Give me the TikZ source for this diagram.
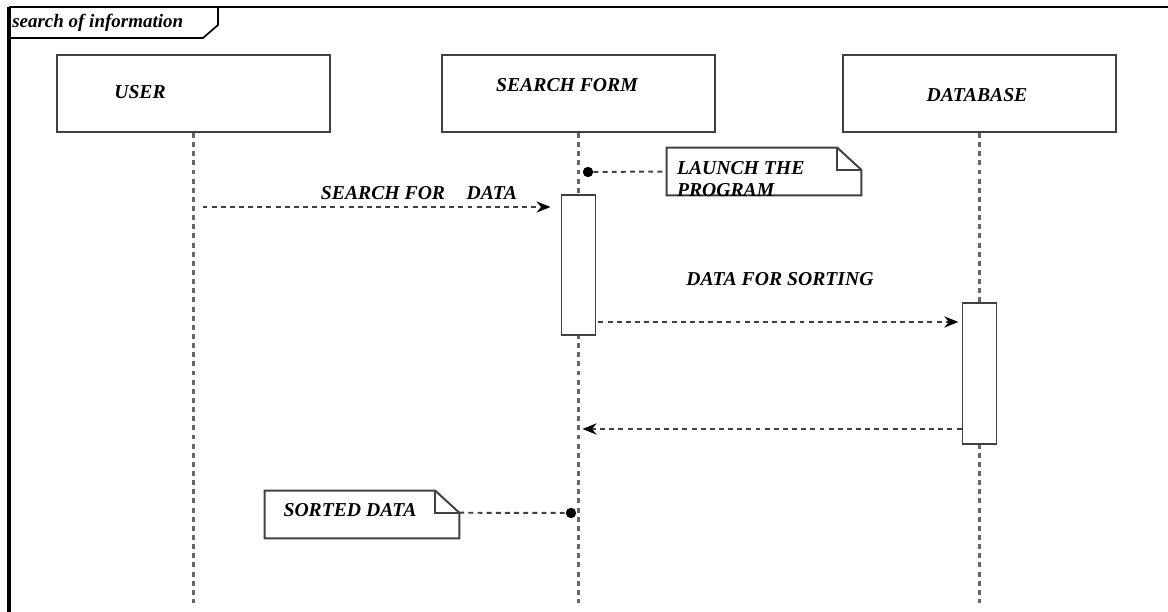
\documentclass[tikz,border=0pt]{standalone}
\usepackage{fontspec}
\setmainfont{Liberation Serif}
\usetikzlibrary{arrows.meta}

\begin{document}
\begin{tikzpicture}[
    head/.style={draw=black!75,line width=1.4pt,minimum width=6.825cm,minimum height=1.925cm,inner sep=0pt},
    act/.style={draw=black!75,line width=1.4pt,fill=white,minimum width=0.85cm,inner sep=0pt},
    notebox/.style={minimum width=4.85cm,minimum height=1.175cm,inner sep=0pt},
    outline/.style={draw=black!75,line width=1.4pt},
    lifeline/.style={black!60,line width=1.6pt,dash pattern=on 3.5pt off 3pt},
    msg/.style={black!75,line width=1.4pt,dash pattern=on 3.5pt off 3pt,-{Stealth[length=10pt,width=8pt,black]}},
    link/.style={black!75,line width=1.4pt,dash pattern=on 3.5pt off 3pt},
    dot/.style={circle,fill=black,inner sep=0pt,minimum size=0.26cm},
    lbl/.style={font=\fontsize{14}{16}\selectfont\bfseries\itshape}
]
\useasboundingbox (0,0) rectangle (29.2,15.3);
\draw[line width=2.2pt] (0.225,0) -- (0.225,15.125);
\draw[line width=1.5pt] (0.225,15.125) -- (29.2,15.125);
\draw[line width=1.2pt] (0.225,14.35) -- (5.075,14.35) -- (5.45,14.675) -- (5.45,15.125);
\node[font=\fontsize{13.5}{15}\selectfont\bfseries\itshape,anchor=west,inner sep=0pt] (title) at (0.3,14.72) {search of information};

\node[head] (user) at (4.8375,12.9625) {};
\node[head] (form) at (14.4625,12.9625) {};
\node[head] (db) at (24.4875,12.9625) {};
\node[lbl] (userlbl) at (3.5,13.0) {USER};
\node[lbl] (formlbl) at (14.175,13.175) {SEARCH FORM};
\node[lbl] (dblbl) at (24.425,12.925) {DATABASE};

\coordinate (bottom) at (0,0.225);
\foreach \l in {user,form,db}
    \draw[lifeline] (\l.south) -- (\l.south |- bottom);

\node[act,minimum height=3.5cm] (formact) at (14.4625,8.675) {};
\node[act,minimum height=3.525cm] (dbact) at (24.4875,5.9625) {};

\coordinate (m1) at ([yshift=-0.325cm]formact.north west);
\draw[msg,shorten <=0.225cm,shorten >=0.25cm] (m1 -| user.south) -- (m1);
\node[lbl] (searchlbl) at (10.475,10.475) {SEARCH FOR\hspace{1.1em}DATA};

\coordinate (m2) at ([yshift=0.35cm]formact.south east);
\draw[msg,shorten <=0.05cm,shorten >=0.08cm] (m2) -- (m2 -| dbact.west);
\node[lbl] (sortlbl) at (19.5,8.325) {DATA FOR SORTING};

\coordinate (m3) at ([yshift=0.4cm]dbact.south west);
\draw[msg,shorten >=0.1cm] (m3) -- (m3 -| form.south);

\node[notebox] (launch) at (19.1,11.0125) {};
\node[notebox] (sorted) at (9.05,2.4375) {};
\foreach \n in {launch,sorted} {
    \draw[outline] (\n.south west) -- (\n.north west) -- ([xshift=-0.6cm]\n.north east)
        -- ([yshift=-0.55cm]\n.north east) -- (\n.south east) -- cycle;
    \draw[outline] ([xshift=-0.6cm]\n.north east) |- ([yshift=-0.55cm]\n.north east);
}
\node[lbl,align=left,anchor=north west,inner sep=0pt] (launchtxt) at ([xshift=0.25cm,yshift=-0.33cm]launch.north west) {LAUNCH THE\\PROGRAM};
\node[lbl] (sortedtxt) at (8.75,2.55) {SORTED DATA};

\node[dot] (launchdot) at (14.7,11.0) {};
\draw[link] (launchdot) -- (launch.west);
\node[dot] (sorteddot) at (14.275,2.475) {};
\draw[link] ([yshift=-0.55cm]sorted.north east) -- (sorteddot);
\end{tikzpicture}
\end{document}
